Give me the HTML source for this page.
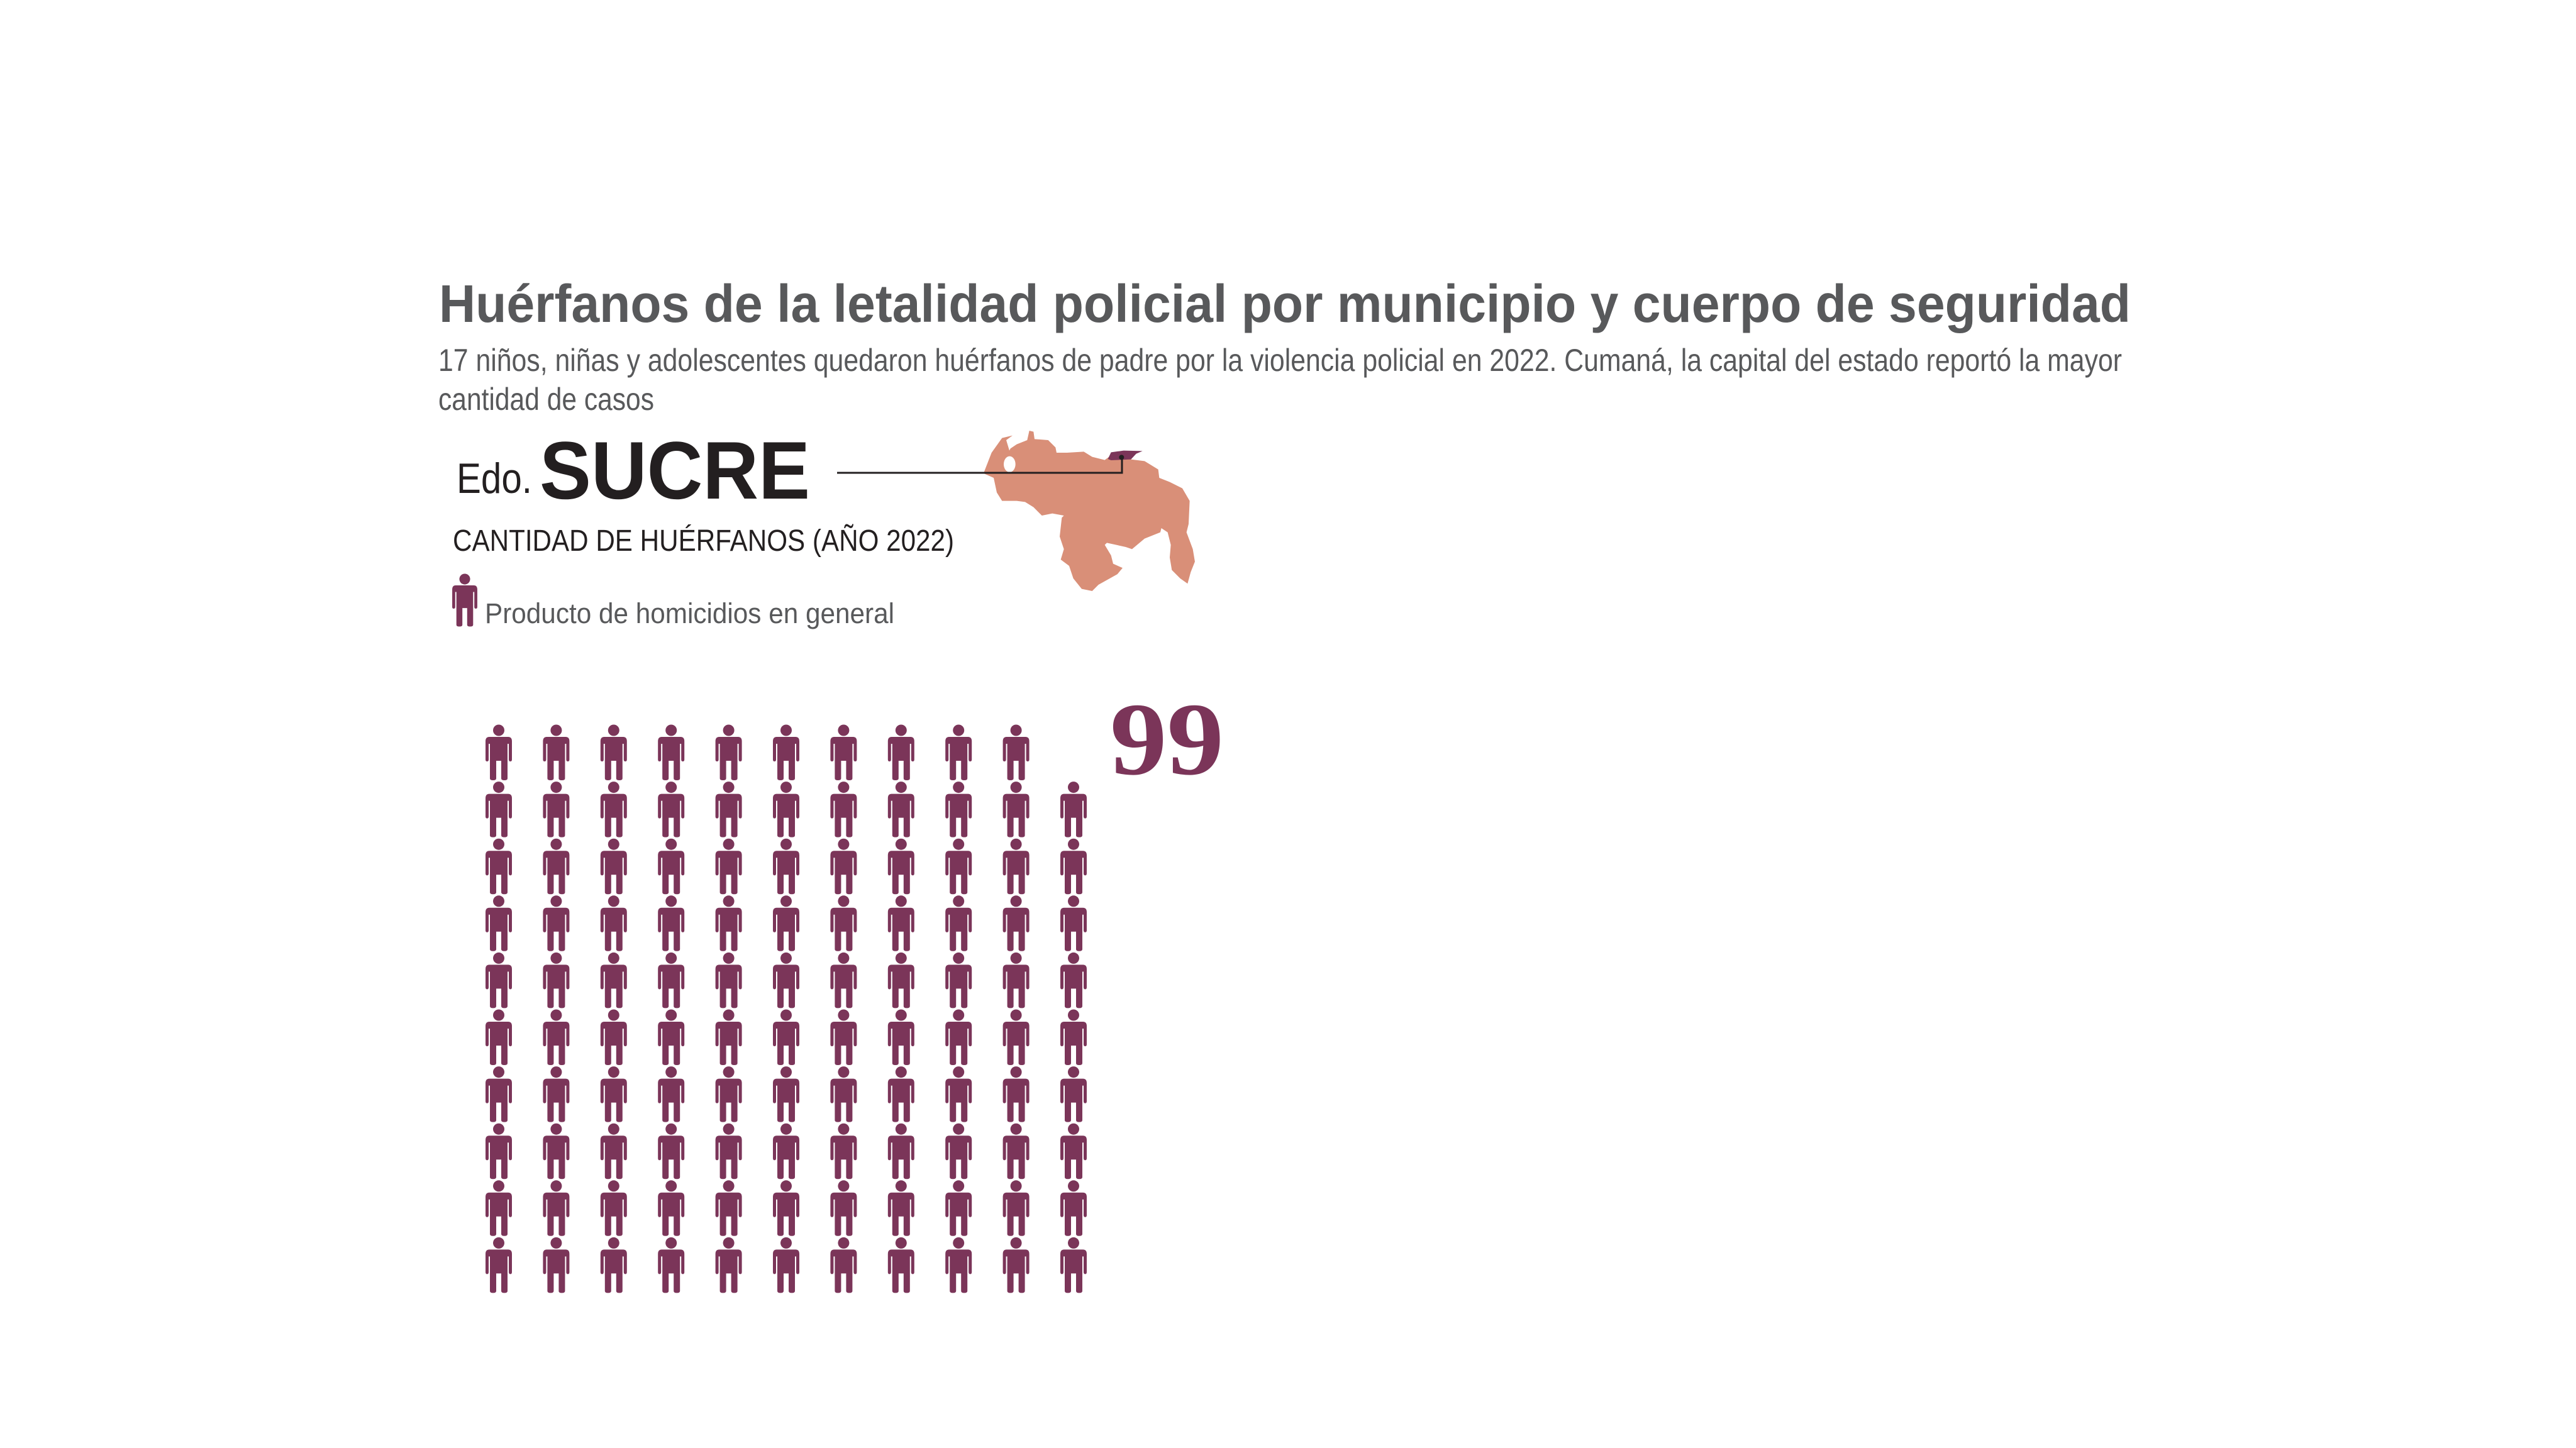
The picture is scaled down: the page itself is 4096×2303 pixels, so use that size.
<!DOCTYPE html>
<html><head><meta charset="utf-8"><style>html,body{margin:0;padding:0;background:#fff}svg{display:block}</style></head>
<body>
<svg width="4096" height="2303" viewBox="0 0 4096 2303" xmlns="http://www.w3.org/2000/svg" xmlns:xlink="http://www.w3.org/1999/xlink">
<defs>
<g id="p">
<circle cx="0" cy="9.5" r="9"/>
<path d="M-15,20 H15 Q21,20 21,27 V56 Q21,59 18.5,59 Q16,59 16,56 V31 H14 V86 Q14,89 9,89 Q4,89 4,86 V58 H-4 V86 Q-4,89 -9,89 Q-14,89 -14,86 V31 H-16 V56 Q-16,59 -18.5,59 Q-21,59 -21,56 V27 Q-21,20 -15,20 Z"/>
</g>
<g id="r10">
<use xlink:href="#p" href="#p" x="793"/>
<use xlink:href="#p" href="#p" x="884.4"/>
<use xlink:href="#p" href="#p" x="975.8"/>
<use xlink:href="#p" href="#p" x="1067.2"/>
<use xlink:href="#p" href="#p" x="1158.6"/>
<use xlink:href="#p" href="#p" x="1250"/>
<use xlink:href="#p" href="#p" x="1341.4"/>
<use xlink:href="#p" href="#p" x="1432.8"/>
<use xlink:href="#p" href="#p" x="1524.2"/>
<use xlink:href="#p" href="#p" x="1615.6"/>
</g>
<g id="r11">
<use xlink:href="#r10" href="#r10"/>
<use xlink:href="#p" href="#p" x="1707"/>
</g>
</defs>
<text x="698" y="512" font-family="Liberation Sans, sans-serif" font-weight="bold" font-size="84" fill="#58595b" textLength="2690" lengthAdjust="spacingAndGlyphs">Huérfanos de la letalidad policial por municipio y cuerpo de seguridad</text>
<text x="697" y="590" font-family="Liberation Sans, sans-serif" font-size="50" fill="#58595b" textLength="2677" lengthAdjust="spacingAndGlyphs">17 niños, niñas y adolescentes quedaron huérfanos de padre por la violencia policial en 2022. Cumaná, la capital del estado reportó la mayor</text>
<text x="697" y="652" font-family="Liberation Sans, sans-serif" font-size="50" fill="#58595b" textLength="343" lengthAdjust="spacingAndGlyphs">cantidad de casos</text>
<text x="726" y="784" font-family="Liberation Sans, sans-serif" font-size="68" fill="#231f20" textLength="120" lengthAdjust="spacingAndGlyphs">Edo.</text>
<text x="858" y="793" font-family="Liberation Sans, sans-serif" font-weight="bold" font-size="130" fill="#231f20" textLength="430" lengthAdjust="spacingAndGlyphs">SUCRE</text>
<text x="720" y="876" font-family="Liberation Sans, sans-serif" font-size="48" fill="#231f20" textLength="797" lengthAdjust="spacingAndGlyphs">CANTIDAD DE HUÉRFANOS (AÑO 2022)</text>
<g fill="#7b3559" transform="translate(739,912) scale(0.95)"><use xlink:href="#p" href="#p"/></g>
<text x="771" y="991" font-family="Liberation Sans, sans-serif" font-size="45" fill="#58595b" textLength="651" lengthAdjust="spacingAndGlyphs">Producto de homicidios en general</text>
<g transform="translate(1560,680) scale(0.3333)">
<path fill="#d98f78" d="M15,210 L50,120 L100,50 L150,38 L120,60 L135,110 L140,100 L170,80 L220,60 L230,15 L250,20 L255,55 L320,60 L355,95 L360,120 L410,120 L490,115 L530,140 L590,155 L610,140 L700,150 L780,160 L845,200 L850,240 L900,260 L960,290 L995,350 L990,460 L980,500 L1010,580 L1020,640 L1000,690 L985,745 L950,720 L910,680 L900,620 L905,560 L890,500 L860,480 L855,500 L780,530 L720,580 L690,570 L600,550 L590,560 L620,610 L630,650 L675,670 L650,700 L560,750 L530,780 L480,770 L440,720 L420,660 L380,630 L395,580 L375,520 L385,430 L395,420 L340,410 L290,420 L250,380 L210,355 L170,350 L100,350 L75,310 L60,240 L15,220 Z"/>
<ellipse cx="136" cy="175" rx="28" ry="38" fill="#fff"/>
<path fill="#7b3559" d="M605,150 L620,118 L680,110 L770,112 L740,125 L715,152 L620,156 Z"/>
<circle cx="670" cy="142" r="12" fill="#231f20"/>
</g>
<polyline points="1331,752 1784,752 1784,727" fill="none" stroke="#231f20" stroke-width="3"/>
<text x="1765" y="1231" font-family="Liberation Serif, serif" font-weight="bold" font-size="165" fill="#7b3559" textLength="181" lengthAdjust="spacingAndGlyphs">99</text>
<g fill="#7b3559">
<use xlink:href="#r10" href="#r10" y="1152"/>
<use xlink:href="#r11" href="#r11" y="1242.6"/>
<use xlink:href="#r11" href="#r11" y="1333.2"/>
<use xlink:href="#r11" href="#r11" y="1423.8"/>
<use xlink:href="#r11" href="#r11" y="1514.4"/>
<use xlink:href="#r11" href="#r11" y="1605"/>
<use xlink:href="#r11" href="#r11" y="1695.6"/>
<use xlink:href="#r11" href="#r11" y="1786.2"/>
<use xlink:href="#r11" href="#r11" y="1876.8"/>
<use xlink:href="#r11" href="#r11" y="1967.4"/>
</g>
</svg>
</body></html>
